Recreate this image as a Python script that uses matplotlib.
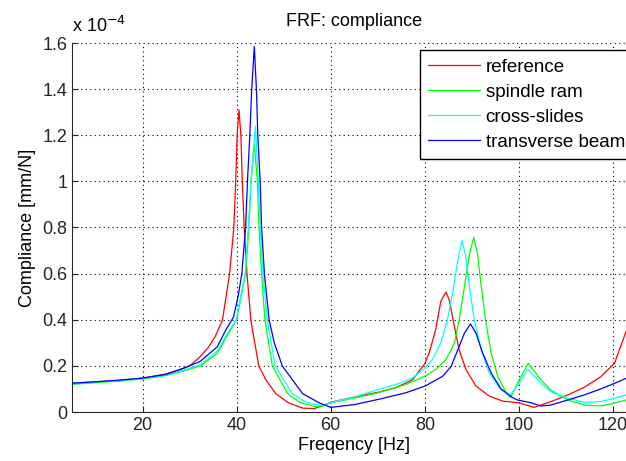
import matplotlib
matplotlib.use('Agg')
import matplotlib.pyplot as plt
from matplotlib.ticker import FuncFormatter

# frequencies [Hz] and compliance values [x 1e-4 mm/N]
f_ref = [5, 10, 15, 20, 25, 28, 30, 32, 34, 35.5, 37, 38.5, 39.4, 39.8, 40.1, 40.5,
         40.9, 41.2, 41.6, 42.2, 43.0, 44.7, 46.2, 48.3, 51, 54, 56.5, 58, 60, 65,
         70, 73.8, 77.4, 80, 80.9, 82.3, 83.4, 84.5, 85.2, 86.3, 87.3, 88.75, 90.9,
         93.7, 96.6, 100, 103.2, 106.8, 110.4, 113.9, 117.4, 120.3, 122.8, 125]
c_ref = [0.125, 0.131, 0.137, 0.147, 0.165, 0.185, 0.2, 0.235, 0.28, 0.33, 0.4, 0.6,
         0.8, 1.0, 1.2, 1.31, 1.2, 1.0, 0.8, 0.6, 0.4, 0.2, 0.14, 0.08, 0.04, 0.017,
         0.015, 0.025, 0.042, 0.065, 0.085, 0.105, 0.14, 0.21, 0.255, 0.356, 0.48,
         0.52, 0.485, 0.37, 0.27, 0.184, 0.112, 0.069, 0.047, 0.04, 0.02, 0.045,
         0.074, 0.107, 0.153, 0.21, 0.35, 0.45]

f_ram = [5, 10, 15, 20, 25, 28.8, 32.3, 35.9, 37.7, 40.0, 41.9, 42.6, 43.05, 43.76,
         44.4, 44.75, 45.3, 46.0, 47.6, 50.8, 53.6, 56.8, 58, 60, 65, 70, 75.9, 80,
         82.3, 84.5, 86.3, 87.3, 88.4, 89.5, 90.4, 91.2, 92, 92.9, 94.1, 95.5, 97.3,
         98.2, 100.1, 102.0, 104.7, 106.8, 110.4, 113.9, 117.4, 120.3, 122.8, 125]
c_ram = [0.12, 0.127, 0.134, 0.143, 0.158, 0.178, 0.2, 0.255, 0.32, 0.4, 0.6, 0.8,
         1.0, 1.162, 1.0, 0.8, 0.6, 0.4, 0.2, 0.08, 0.04, 0.023, 0.025, 0.04, 0.06,
         0.083, 0.119, 0.155, 0.184, 0.227, 0.30, 0.4, 0.542, 0.686, 0.757, 0.686,
         0.542, 0.4, 0.255, 0.155, 0.083, 0.062, 0.14, 0.211, 0.139, 0.095, 0.052,
         0.03, 0.026, 0.038, 0.052, 0.06]

f_slides = [5, 10, 15, 20, 25, 28.8, 32.3, 35.9, 37.7, 39.9, 41.8, 42.5, 43.05, 44.0,
            44.6, 45.0, 45.6, 46.5, 48.2, 51.8, 55, 58, 60, 65, 70.2, 73.8, 77.4, 80,
            81.6, 83.4, 84.8, 85.9, 87.0, 87.9, 88.6, 89.5, 90.5, 92, 93.7, 95.9, 98,
            100.1, 101.9, 104.7, 106.8, 110.4, 113.9, 117.4, 120.3, 122.8, 125]
c_slides = [0.125, 0.13, 0.136, 0.145, 0.16, 0.182, 0.205, 0.265, 0.33, 0.4, 0.6, 0.8,
            1.0, 1.24, 1.0, 0.8, 0.6, 0.4, 0.2, 0.08, 0.04, 0.028, 0.04, 0.065, 0.098,
            0.119, 0.148, 0.19, 0.227, 0.30, 0.4, 0.514, 0.657, 0.743, 0.686, 0.542,
            0.4, 0.27, 0.169, 0.105, 0.069, 0.126, 0.185, 0.125, 0.088, 0.06, 0.042,
            0.045, 0.06, 0.074, 0.085]

f_beam = [5, 10, 15, 20, 25, 28.8, 32.3, 35.9, 37.7, 39.3, 40.3, 41.1, 41.9, 42.3,
          42.8, 43.2, 43.76, 44.2, 44.5, 45.0, 45.3, 45.9, 46.9, 48.0, 49.7, 54, 57.5,
          60, 65, 70.2, 75.9, 80, 83.8, 85.6, 87.3, 88.4, 89.7, 90.9, 92.3, 94.1, 96.2,
          98.7, 99.7, 102.6, 104.7, 106.8, 110.4, 113.9, 117.4, 120.3, 122.8, 125]
c_beam = [0.125, 0.131, 0.138, 0.147, 0.163, 0.19, 0.22, 0.283, 0.356, 0.41, 0.5, 0.6,
          0.8, 1.0, 1.2, 1.4, 1.585, 1.4, 1.2, 1.0, 0.8, 0.6, 0.4, 0.3, 0.2, 0.08, 0.04,
          0.02, 0.032, 0.055, 0.083, 0.112, 0.155, 0.198, 0.284, 0.341, 0.382, 0.341,
          0.255, 0.169, 0.1, 0.062, 0.052, 0.04, 0.026, 0.03, 0.052, 0.074, 0.1, 0.124,
          0.146, 0.16]

x_ticks = [20, 40, 60, 80, 100, 120]
y_ticks = [0, 0.2, 0.4, 0.6, 0.8, 1.0, 1.2, 1.4, 1.6]

plt.rcParams['font.family'] = ['Liberation Sans', 'DejaVu Sans']
fs = 13

fig = plt.figure(figsize=(6.26, 4.61), dpi=100)
# axes run past the right edge of the figure, as in the cropped screenshot
ax = fig.add_axes([72/626, 1 - 412/461, (636.5 - 72)/626, (412 - 43)/461])

lw = 0.9
ax.plot(f_ref, c_ref, color=(1, 0, 0), lw=lw, label='reference')
ax.plot(f_ram, c_ram, color=(0, 1, 0), lw=lw, label='spindle ram')
ax.plot(f_slides, c_slides, color=(0, 1, 1), lw=lw, label='cross-slides')
ax.plot(f_beam, c_beam, color=(0, 0, 1), lw=lw, label='transverse beam')

ax.set_xlim(5, 125)
ax.set_ylim(0, 1.6)
ax.set_xticks(x_ticks)
ax.set_yticks(y_ticks)
ax.yaxis.set_major_formatter(FuncFormatter(lambda v, p: '%g' % v))
ax.tick_params(direction='in', length=4, labelsize=fs, colors='#262626')
ax.spines['top'].set_visible(False)
ax.spines['right'].set_visible(False)
for s in ['left', 'bottom']:
    ax.spines[s].set_color('#262626')
ax.grid(True, color='black', linestyle=(0, (1, 3)), linewidth=0.8)

ax.set_xlabel('Freqency [Hz]', fontsize=fs, labelpad=2)
ax.set_ylabel('Compliance [mm/N]', fontsize=fs, labelpad=4)
ax.set_title('FRF: compliance', fontsize=fs, pad=12)
ax.text(0.0, 1.02, 'x 10$^{-4}$', transform=ax.transAxes, fontsize=fs,
        ha='left', va='bottom')

leg = ax.legend(loc='upper left', bbox_to_anchor=(420/626, 1 - 50/461),
                bbox_transform=fig.transFigure, fontsize=13.5, fancybox=False,
                framealpha=1, edgecolor='black', handlelength=2.75,
                handletextpad=0.3, labelspacing=0.42, borderpad=0.45,
                borderaxespad=0)
leg.get_frame().set_linewidth(1.0)

fig.savefig('out.png', dpi=100)
